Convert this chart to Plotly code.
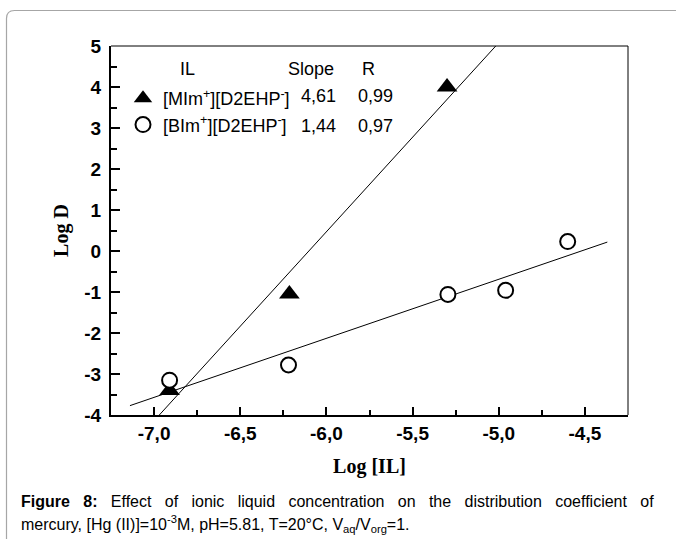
import plotly.graph_objects as go

# ---------------- data ----------------
mim_x = [-6.91, -6.215, -5.30]
mim_y = [-3.40, -1.05, 4.00]
bim_x = [-6.91, -6.22, -5.295, -4.96, -4.60]
bim_y = [-3.15, -2.78, -1.06, -0.96, 0.23]

series_names = ["[MIm<sup>+</sup>][D2EHP<sup>-</sup>]", "[BIm<sup>+</sup>][D2EHP<sup>-</sup>]"]
slopes = [4.61, 1.44]
r_values = [0.99, 0.97]
intercepts = [28.13, 6.51]
fit_x_ranges = [[-6.98, -5.00], [-7.14, -4.37]]

x_tickvals = [-7.0, -6.5, -6.0, -5.5, -5.0, -4.5]
x_ticktext = ["-7,0", "-6,5", "-6,0", "-5,5", "-5,0", "-4,5"]
y_tickvals = [-4, -3, -2, -1, 0, 1, 2, 3, 4, 5]
y_ticktext = ["-4", "-3", "-2", "-1", "0", "1", "2", "3", "4", "5"]

caption_words1 = ["<b>Figure</b>", "<b>8:</b>", "Effect", "of", "ionic", "liquid",
                  "concentration", "on", "the", "distribution", "coefficient", "of"]
caption_line2 = ("mercury, [Hg (II)]=10<sup>-3</sup>M, pH=5.81, T=20°C, V<sub>aq</sub>/V<sub>org</sub>=1.")

# ---------------- figure ----------------
W, H = 676, 539
ML, MR, MT, MB = 111, 48, 46, 124
PW, PH = W - ML - MR, H - MT - MB

def px_x(p):
    return (p - ML) / PW

def px_y(p):
    return (H - MB - p) / PH

SANS = "Liberation Sans, Arial, sans-serif"
SERIF = "Liberation Serif, Times New Roman, serif"

fig = go.Figure()

# fit lines
for (x0, x1), m, b in zip(fit_x_ranges, slopes, intercepts):
    fig.add_trace(go.Scatter(
        x=[x0, x1], y=[m * x0 + b, m * x1 + b], mode="lines",
        line=dict(color="black", width=1), showlegend=False, hoverinfo="skip"))

fig.add_trace(go.Scatter(
    x=mim_x, y=mim_y, mode="markers", name=series_names[0], legendgroup="a",
    marker=dict(symbol="triangle-up", size=18, color="black",
                line=dict(color="black", width=0))))
fig.add_trace(go.Scatter(
    x=bim_x, y=bim_y, mode="markers", name=series_names[1], legendgroup="b",
    marker=dict(symbol="circle", size=15, color="white",
                line=dict(color="black", width=2))))

axis_common = dict(showgrid=False, zeroline=False, showline=True, linecolor="black",
                   linewidth=2, ticks="inside", tickcolor="black", tickwidth=2,
                   tickfont=dict(family=SANS, size=19, color="black", weight="bold"),
                   mirror=False)

fig.update_xaxes(range=[-7.25, -4.25], tickmode="array", tickvals=x_tickvals,
                 ticktext=x_ticktext, ticklen=8, ticklabelstandoff=0,
                 minor=dict(tickmode="linear", tick0=-7.0, dtick=0.25, ticks="inside",
                            ticklen=5, tickwidth=2, tickcolor="black"),
                 title=dict(text="<b>Log [IL]</b>", standoff=16,
                            font=dict(family=SERIF, size=20, color="black")),
                 **axis_common)
fig.update_yaxes(range=[-4, 5], tickmode="array", tickvals=y_tickvals,
                 ticktext=y_ticktext, ticklen=9, ticklabelstandoff=4,
                 minor=dict(tickmode="linear", tick0=-4, dtick=0.5, ticks="inside",
                            ticklen=6, tickwidth=2, tickcolor="black"),
                 title=dict(text="<b>Log D</b>", standoff=10,
                            font=dict(family=SERIF, size=20, color="black")),
                 **axis_common)

shapes = [
    # thin top and right frame
    dict(type="line", xref="paper", yref="paper", x0=0, x1=1, y0=1, y1=1,
         line=dict(color="black", width=1)),
    dict(type="line", xref="paper", yref="paper", x0=1, x1=1, y0=0, y1=1,
         line=dict(color="black", width=1)),
]
# rounded outer border
bx0, by0 = px_x(6.5), px_y(10.5)
rx, ry = 8 / PW, 8 / PH
bx1, by1 = px_x(700), px_y(560)
shapes.append(dict(
    type="path", xref="paper", yref="paper",
    path=(f"M {bx0},{by1} L {bx0},{by0 - ry} Q {bx0},{by0} {bx0 + rx},{by0} "
          f"L {bx1},{by0}"),
    line=dict(color="#a6a6a6", width=1.2)))

LEG = dict(family=SANS, size=18, color="black")
annotations = []
# legend header
for txt, cx in [("IL", 187), ("Slope", 311), ("R", 368)]:
    annotations.append(dict(text=txt, xref="paper", yref="paper", x=px_x(cx), y=px_y(69),
                            showarrow=False, xanchor="center", yanchor="middle", font=LEG))
row_y = [96, 126]
for s, r, yy in zip(slopes, r_values, row_y):
    annotations.append(dict(text=f"{s:.2f}".replace(".", ","), xref="paper", yref="paper",
                            x=px_x(318), y=px_y(yy), showarrow=False, xanchor="center",
                            yanchor="middle", font=LEG))
    annotations.append(dict(text=f"{r:.2f}".replace(".", ","), xref="paper", yref="paper",
                            x=px_x(375), y=px_y(yy), showarrow=False, xanchor="center",
                            yanchor="middle", font=LEG))
# caption (line 1 justified by widened gaps)
caption_line1 = " &nbsp;&nbsp;".join(caption_words1)
annotations.append(dict(text=caption_line1, xref="paper", yref="paper", x=px_x(19),
                        y=px_y(501), showarrow=False, xanchor="left", yanchor="middle",
                        font=dict(family=SANS, size=16, color="black")))
annotations.append(dict(text=caption_line2, xref="paper", yref="paper", x=px_x(19),
                        y=px_y(524), showarrow=False, xanchor="left", yanchor="middle",
                        font=dict(family=SANS, size=16, color="black")))

fig.update_layout(
    width=W, height=H, autosize=False,
    margin=dict(l=ML, r=MR, t=MT, b=MB, pad=0),
    paper_bgcolor="white", plot_bgcolor="white",
    shapes=shapes, annotations=annotations,
    legend=dict(x=px_x(123), y=px_y(80), xanchor="left", yanchor="top",
                bgcolor="rgba(0,0,0,0)", borderwidth=0, tracegroupgap=8,
                traceorder="normal", font=LEG),
    showlegend=True,
)

fig.write_html("out.html", config={"displayModeBar": False},
               post_script="document.body.style.margin='0';")
